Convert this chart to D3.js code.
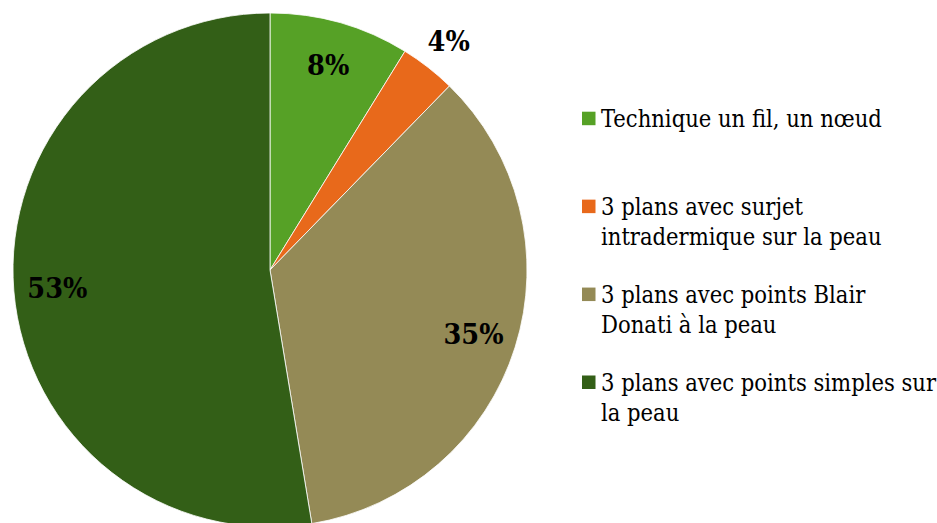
<!DOCTYPE html>
<html>
<head>
<meta charset="utf-8">
<script src="https://cdn.jsdelivr.net/npm/d3@7"></script>
<style>
body { margin: 0; background: #fff; }
</style>
</head>
<body>
<div id="chart"></div>
<script>
// categories and values
var categories = ["Technique un fil, un nœud",
                  "3 plans avec surjet intradermique sur la peau",
                  "3 plans avec points Blair Donati à la peau",
                  "3 plans avec points simples sur la peau"];
var legendLines = [["Technique un fil, un nœud"],
                   ["3 plans avec surjet", "intradermique sur la peau"],
                   ["3 plans avec points Blair", "Donati à la peau"],
                   ["3 plans avec points simples sur", "la peau"]];
var values = [8.8, 3.5, 35.1, 52.6];
var pctLabels = ["8%", "4%", "35%", "53%"];
var colors = ["#56a126", "#e8691b", "#948a56", "#335f17"];

var width = 937, height = 523;
var cx = 270, cy = 270, radius = 257;

var svg = d3.select("#chart").append("svg")
    .attr("width", width)
    .attr("height", height);

var data = categories.map(function(c, i) { return {name: c, value: values[i], label: pctLabels[i], color: colors[i]}; });

var pie = d3.pie().sort(null).value(function(d) { return d.value; });
var arc = d3.arc().innerRadius(0).outerRadius(radius);
var labelArcIn = d3.arc().innerRadius(radius * 0.83).outerRadius(radius * 0.83);
var labelArcOut = d3.arc().innerRadius(radius * 1.13).outerRadius(radius * 1.13);

var g = svg.append("g").attr("transform", "translate(" + cx + "," + cy + ")");

var arcs = pie(data);

g.selectAll("path.slice")
    .data(arcs)
    .enter().append("path")
    .attr("class", "slice")
    .attr("d", arc)
    .attr("fill", function(d) { return d.data.color; })
    .attr("stroke", "#fff")
    .attr("stroke-width", 0.8);

// percentage labels, small slices go outside
g.selectAll("text.pct")
    .data(arcs)
    .enter().append("text")
    .attr("class", "pct")
    .attr("transform", function(d) {
        var small = (d.endAngle - d.startAngle) < 0.3;
        var p = small ? labelArcOut.centroid(d) : labelArcIn.centroid(d);
        return "translate(" + p[0] + "," + p[1] + ")";
    })
    .attr("text-anchor", "middle")
    .attr("dy", "0.36em")
    .attr("font-family", "DejaVu Serif")
    .attr("font-stretch", "condensed")
    .attr("font-size", 28.5)
    .attr("font-weight", "bold")
    .attr("fill", "#000")
    .text(function(d) { return d.data.label; });

// legend
var legY = d3.scalePoint().domain(categories).range([126.7, 390.5]);
var legend = svg.selectAll(".legend")
    .data(data)
    .enter().append("g")
    .attr("class", "legend")
    .attr("transform", function(d) { return "translate(582," + legY(d.name) + ")"; });

legend.append("rect")
    .attr("x", 0)
    .attr("y", -15)
    .attr("width", 13.5)
    .attr("height", 13.5)
    .style("fill", function(d) { return d.color; });

legend.append("text")
    .attr("x", 19)
    .attr("y", 0)
    .attr("font-family", "DejaVu Serif")
    .attr("font-stretch", "condensed")
    .attr("font-size", 23.5)
    .attr("fill", "#000")
    .each(function(d, i) {
        var t = d3.select(this);
        legendLines[i].forEach(function(line, j) {
            t.append("tspan").attr("x", 19).attr("y", j * 30).text(line);
        });
    });
</script>
</body>
</html>
